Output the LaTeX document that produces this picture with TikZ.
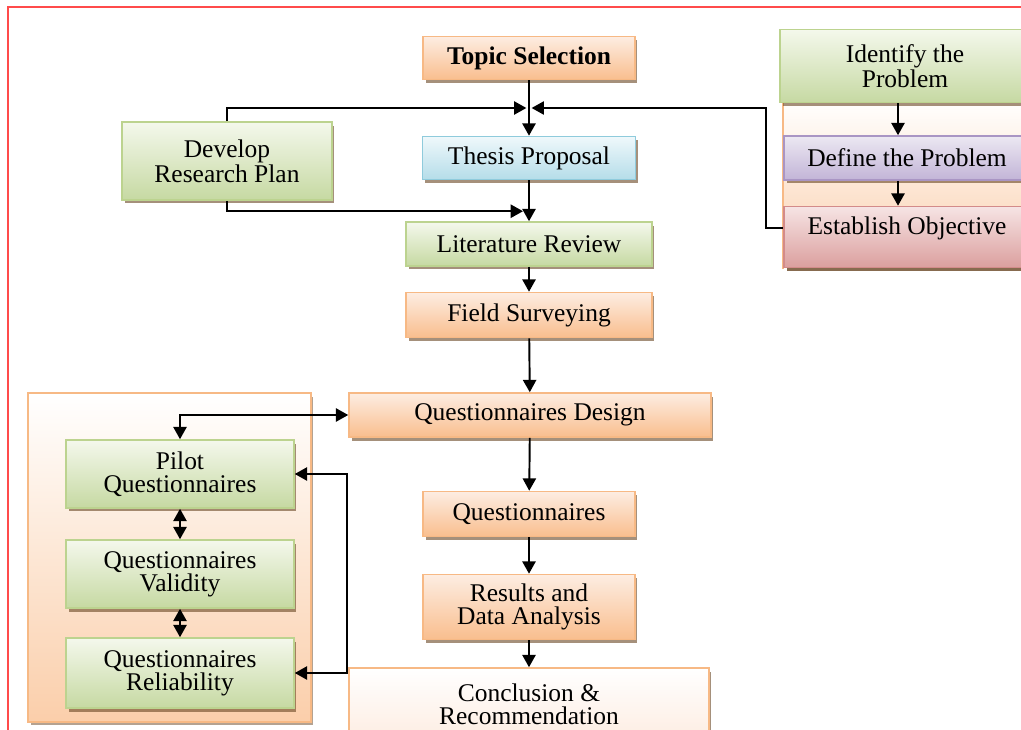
\documentclass[tikz,border=0pt]{standalone}
\usepackage{fontspec}
\setmainfont{Liberation Serif}
\usetikzlibrary{arrows.meta,shadows}

\definecolor{orgB}{HTML}{F7B985}
\definecolor{orgL}{HTML}{FDEDE2}
\definecolor{orgD}{HTML}{F9BE8E}
\definecolor{grnB}{HTML}{BCD38F}
\definecolor{grnL}{HTML}{F4F8EC}
\definecolor{grnD}{HTML}{C6D9A2}
\definecolor{bluB}{HTML}{8FCBDC}
\definecolor{bluL}{HTML}{EFF8FB}
\definecolor{bluD}{HTML}{B5DDE9}
\definecolor{purB}{HTML}{A995C4}
\definecolor{purL}{HTML}{ECE8F2}
\definecolor{purD}{HTML}{C2B4D7}
\definecolor{redB}{HTML}{D38B8A}
\definecolor{redL}{HTML}{F6E4E4}
\definecolor{redD}{HTML}{DB9F9E}
\definecolor{frame}{HTML}{FF4B4B}

\tikzset{
	box/.style={draw, line width=0.9pt, align=center, inner sep=2pt,
		font=\fontsize{14.5}{13}\selectfont,
		drop shadow={shadow xshift=0.05cm, shadow yshift=-0.07cm, fill=brown!55!black, opacity=0.6}},
	orgbox/.style={box, draw=orgB, top color=orgL, bottom color=orgD},
	grnbox/.style={box, draw=grnB, top color=grnL, bottom color=grnD},
	blubox/.style={box, draw=bluB, top color=bluL, bottom color=bluD},
	purbox/.style={box, draw=purB, top color=purL, bottom color=purD},
	redbox/.style={box, draw=redB, top color=redL, bottom color=redD},
	panel/.style={draw=orgB, line width=1.4pt, top color=white, bottom color=orgD!75,
		drop shadow={shadow xshift=0.05cm, shadow yshift=-0.07cm, fill=brown!55!black, opacity=0.5}},
	arr/.style={-{Triangle[width=7.5pt,length=7pt]}, line width=1.1pt},
	dblarr/.style={{Triangle[width=7.5pt,length=7pt]}-{Triangle[width=7.5pt,length=7pt]}, line width=1.1pt},
}

\begin{document}
\begin{tikzpicture}[x=0.02cm, y=-0.02cm]
	\useasboundingbox (0,0) rectangle (1021,730);
	\draw[frame, line width=1.2pt] (8,731) -- (8,7) -- (1022,7);

	% containers
	\node[panel, minimum width=5.66cm, minimum height=6.58cm] (qframe) at (169.5,557.5) {};
	\node[panel, draw=none, minimum width=5.2cm, minimum height=3.36cm] (rpanel) at (914,184) {};
	\draw[orgB, line width=1.4pt] (rpanel.north west) -- (rpanel.south west);

	% main column
	\node[orgbox, minimum width=4.24cm, minimum height=0.86cm, font=\fontsize{14.5}{13}\selectfont\bfseries] (topic) at (529,58) {Topic Selection};
	\node[blubox, minimum width=4.26cm, minimum height=0.86cm] (thesis) at (529,158) {Thesis Proposal};
	\node[grnbox, minimum width=4.2cm, minimum height=1.56cm] (drp) at (227,161) {Develop\\Research Plan};
	\node[grnbox, minimum width=4.92cm, minimum height=0.88cm] (lit) at (529,244) {Literature Review};
	\node[orgbox, minimum width=4.92cm, minimum height=0.9cm] (field) at (529,315) {Field Surveying};
	\node[orgbox, minimum width=7.24cm, minimum height=0.88cm] (qd) at (530,415) {Questionnaires Design};
	\node[orgbox, minimum width=4.24cm, minimum height=0.9cm] (quest) at (529,514) {Questionnaires};
	\node[orgbox, minimum width=4.24cm, minimum height=1.3cm] (res) at (529,607) {Results and\\Data Analysis};
	\node[orgbox, top color=white, bottom color=orgL, minimum width=7.2cm, minimum height=1.44cm] (concl) at (529,704) {Conclusion \&\\Recommendation};

	% questionnaire checks
	\node[grnbox, minimum width=4.56cm, minimum height=1.36cm] (pilot) at (180,474) {Pilot\\Questionnaires};
	\node[grnbox, minimum width=4.56cm, minimum height=1.36cm] (valid) at (180,574) {Questionnaires\\Validity};
	\node[grnbox, minimum width=4.56cm, minimum height=1.4cm] (rel) at (180,673) {Questionnaires\\Reliability};

	% problem column
	\node[grnbox, minimum width=5.0cm, minimum height=1.46cm] (ident) at (905,66) {Identify the\\Problem};
	\node[purbox, minimum width=4.92cm, minimum height=0.88cm] (define) at (907,158) {Define the Problem};
	\node[redbox, minimum width=4.92cm, minimum height=1.22cm, text depth=0.45cm] (est) at (907,237) {Establish Objective};

	\coordinate (jn) at (529,108); % merge point
	\coordinate (jr) at (766,108);
	\coordinate (xc) at (898,0);
	\coordinate (bkt) at (347,474);
	\coordinate (bkb) at (347,673);

	\draw[arr] (topic) -- (thesis);
	\draw[arr] (drp.north) |- ([xshift=-1.5pt]jn);
	\draw[arr] ([yshift=0.18cm]est.west) -| (jr) -- ([xshift=1.5pt]jn);
	\draw[arr] (thesis) -- (lit);
	\draw[arr] (drp.south) |- ([xshift=-0.12cm,yshift=0.2cm]lit.north);
	\draw[arr] (lit) -- (field);
	\draw[arr] (field) -- (qd);
	\draw[dblarr] (pilot.north) |- (qd.west);
	\draw[arr] (qd) -- (quest);
	\draw[arr] (quest) -- (res);
	\draw[arr] (res) -- (concl);
	\draw[dblarr] (pilot) -- (valid);
	\draw[dblarr] (valid) -- (rel);
	\draw[dblarr] (pilot.east) -- (bkt) -- (bkb) -- (rel.east);
	\draw[arr] (ident.south -| xc) -- (define.north -| xc);
	\draw[arr] (define.south -| xc) -- (est.north -| xc);
\end{tikzpicture}
\end{document}
